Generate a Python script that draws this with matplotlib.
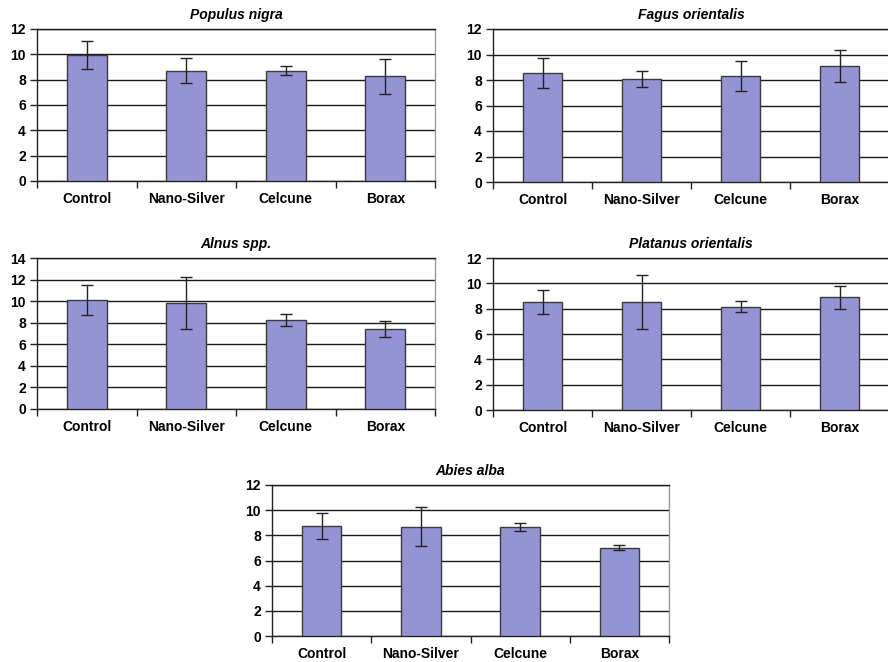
import numpy as np
import matplotlib
matplotlib.use('Agg')
import matplotlib.pyplot as plt

plt.rcParams['font.family'] = ['Liberation Sans', 'DejaVu Sans']
plt.rcParams['font.weight'] = 'bold'

treatments = ['Control', 'Nano-Silver', 'Celcune', 'Borax']

species = ['Populus nigra', 'Fagus orientalis', 'Alnus spp.', 'Platanus orientalis', 'Abies alba']

populus_mean = [9.95, 8.70, 8.70, 8.28]
populus_err = [1.13, 0.98, 0.37, 1.38]
fagus_mean = [8.52, 8.08, 8.31, 9.10]
fagus_err = [1.18, 0.61, 1.20, 1.28]
alnus_mean = [10.14, 9.83, 8.25, 7.42]
alnus_err = [1.39, 2.44, 0.57, 0.70]
platanus_mean = [8.53, 8.53, 8.16, 8.89]
platanus_err = [0.95, 2.10, 0.45, 0.88]
abies_mean = [8.76, 8.68, 8.68, 7.02]
abies_err = [1.04, 1.56, 0.33, 0.18]

means = [populus_mean, fagus_mean, alnus_mean, platanus_mean, abies_mean]
errs = [populus_err, fagus_err, alnus_err, platanus_err, abies_err]
ymax = [12, 12, 14, 12, 12]

W, H = 888, 662
# axes boxes in pixels: left, top, right, bottom
boxes = [(37, 29, 435, 181),
         (493, 29, 889, 182),
         (37, 258, 435, 409),
         (493, 258, 889, 410),
         (272, 485, 669, 636)]

fig = plt.figure(figsize=(W / 100, H / 100), dpi=100)
bar_color = '#9494d4'

for name, m, e, top, (l, t, r, b) in zip(species, means, errs, ymax, boxes):
    ax = fig.add_axes([l / W, 1 - b / H, (r - l) / W, (b - t) / H])
    x = np.arange(len(treatments))
    ax.bar(x, m, width=0.4, color=bar_color, edgecolor='#3a3a3a', linewidth=1.0, zorder=3)
    ax.errorbar(x, m, yerr=e, fmt='none', ecolor='#222222', elinewidth=1.0,
                capsize=4, capthick=1.0, zorder=4)
    ax.set_xlim(-0.5, len(treatments) - 0.5)
    ax.set_ylim(0, top)
    ax.set_yticks(np.arange(0, top + 1, 2))
    ax.yaxis.grid(True, color='#1a1a1a', linewidth=1.0, zorder=1)
    ax.set_axisbelow(True)

    # category labels sit between boundary ticks
    ax.set_xticks(np.arange(-0.5, len(treatments), 1.0))
    ax.set_xticklabels([])
    ax.set_xticks(x, minor=True)
    ax.set_xticklabels(treatments, minor=True, fontsize=10, fontweight='bold')
    ax.tick_params(axis='x', which='minor', length=0, pad=8)
    ax.tick_params(axis='x', which='major', direction='out', length=5, width=1.0, color='#222222')
    ax.tick_params(axis='y', direction='out', length=5, width=1.0, color='#222222',
                   labelsize=10, pad=3)
    for lab in ax.get_yticklabels():
        lab.set_fontweight('bold')

    ax.spines['left'].set_color('#222222')
    ax.spines['bottom'].set_color('#222222')
    ax.spines['top'].set_color('#1a1a1a')
    ax.spines['right'].set_color('#999999')
    for s in ax.spines.values():
        s.set_linewidth(1.0)

    ax.set_title(name, fontsize=10, fontweight='bold', fontstyle='italic', pad=7)

fig.savefig('out.png', dpi=100)
